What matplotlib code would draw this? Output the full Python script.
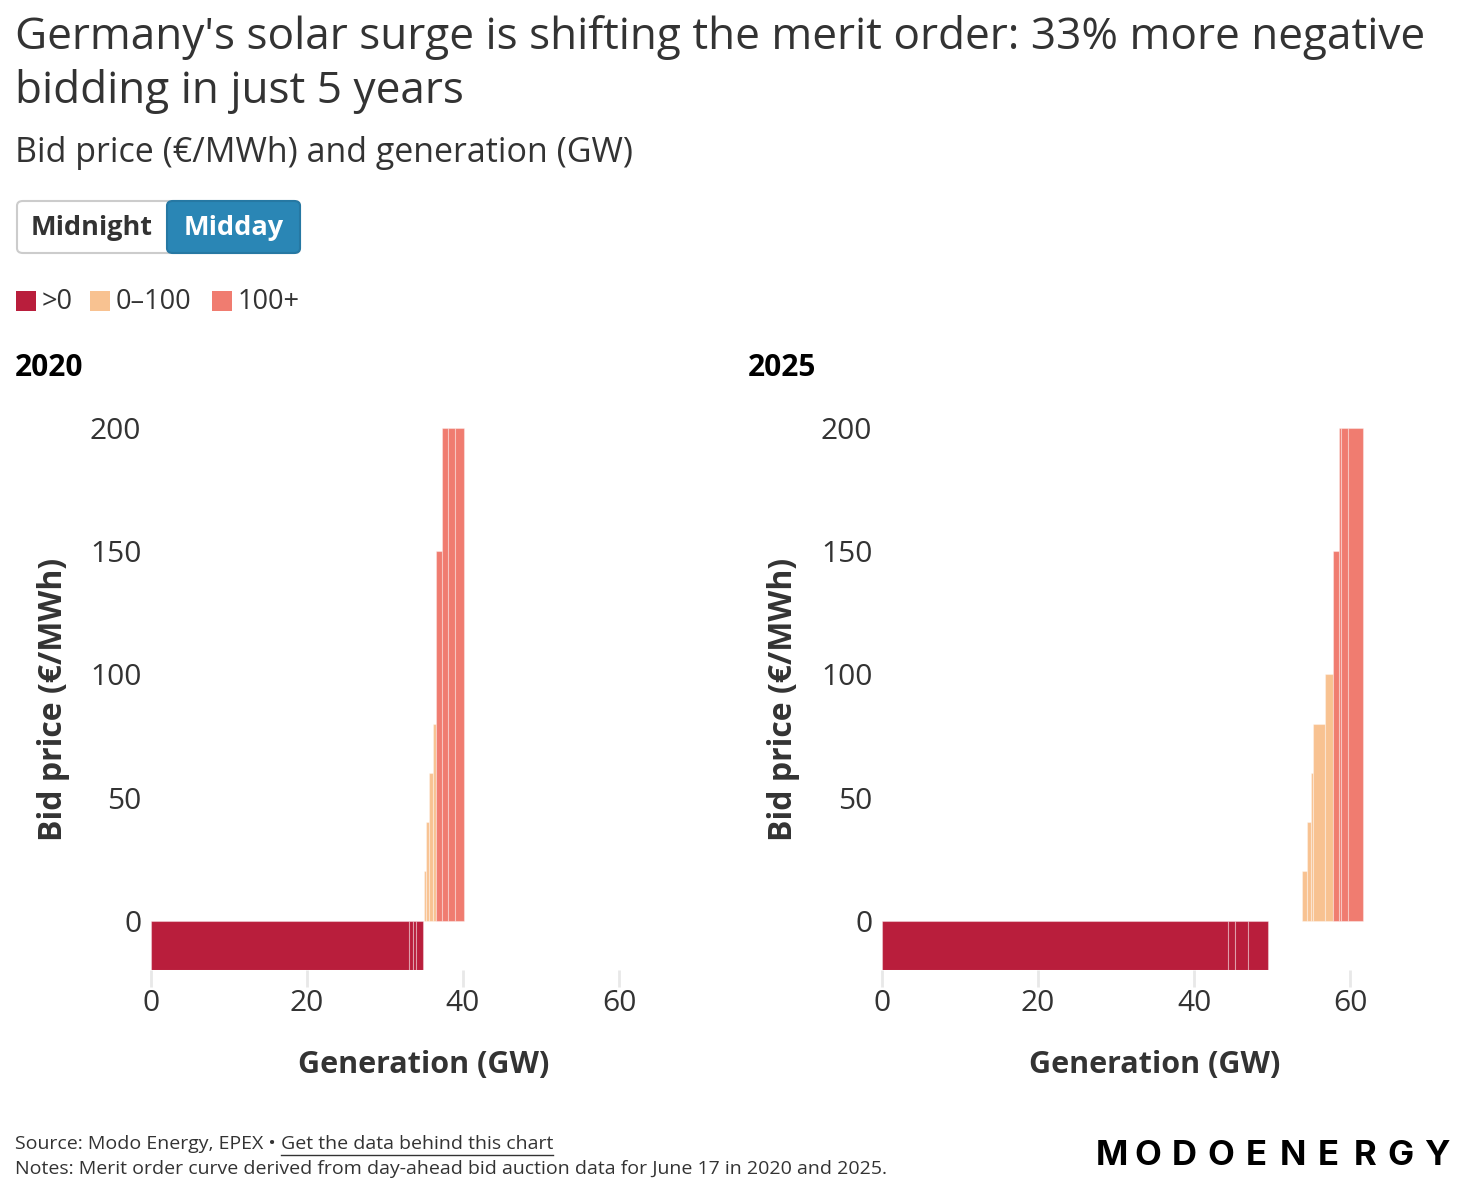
import matplotlib
matplotlib.use("Agg")
import matplotlib.pyplot as plt
from matplotlib.patches import FancyBboxPatch, Rectangle
from matplotlib.lines import Line2D

W, H = 1480, 1192

# merit order blocks (GW start, GW end, bid price)
start_2020 = [0, 33.1, 33.6, 34.0, 35.0, 35.3, 35.6, 36.2, 36.6, 37.3, 38.1, 39.0]
end_2020 = [33.1, 33.6, 34.0, 34.9, 35.3, 35.6, 36.2, 36.6, 37.3, 38.1, 39.0, 40.1]
price_2020 = [-20, -20, -20, -20, 20, 40, 60, 80, 150, 200, 200, 200]

start_2025 = [0, 44.3, 45.3, 46.9, 53.8, 54.5, 55.05, 55.3, 56.8, 57.8, 58.6, 58.8, 59.7]
end_2025 = [44.3, 45.3, 46.9, 49.5, 54.5, 55.05, 55.3, 56.8, 57.8, 58.6, 58.8, 59.7, 61.7]
price_2025 = [-20, -20, -20, -20, 20, 40, 60, 80, 100, 150, 200, 200, 200]

legend_labels = [">0", "0–100", "100+"]
legend_colors = ["#B91E3C", "#F8C291", "#F07C70"]
x_ticks = [0, 20, 40, 60]
y_ticks = [0, 50, 100, 150, 200]

FONT = "Open Sans"
plt.rcParams['font.family'] = [FONT, 'DejaVu Sans']
TXT = "#333333"


def fx(px):
    return px / W


def fy(py):
    return 1 - py / H


def colour_for(p):
    if p <= 0:
        return legend_colors[0]
    if p <= 100:
        return legend_colors[1]
    return legend_colors[2]


fig = plt.figure(figsize=(W / 100, H / 100), dpi=100)
fig.patch.set_facecolor("white")

# title block
fig.text(fx(15), fy(38), "Germany's solar surge is shifting the merit order: 33% more negative",
         fontsize=31.8, color=TXT, va="center", ha="left")
fig.text(fx(15), fy(92), "bidding in just 5 years", fontsize=31.8, color=TXT, va="center", ha="left")
fig.text(fx(15), fy(153), "Bid price (€/MWh) and generation (GW)", fontsize=24.5, color=TXT,
         va="center", ha="left")

# toggle buttons
fig.patches.append(FancyBboxPatch((fx(17), fy(253)), fx(283), 52 / H,
                                  boxstyle="round,pad=0,rounding_size=0.004",
                                  transform=fig.transFigure, facecolor="white",
                                  edgecolor="#cccccc", linewidth=1.5))
fig.patches.append(FancyBboxPatch((fx(167), fy(253)), fx(133), 52 / H,
                                  boxstyle="round,pad=0,rounding_size=0.004",
                                  transform=fig.transFigure, facecolor="#2A86B5",
                                  edgecolor="#2678a3", linewidth=1.5))
fig.text(fx(92), fy(228), "Midnight", fontsize=19.5, fontweight="bold", color=TXT,
         ha="center", va="center")
fig.text(fx(234), fy(228), "Midday", fontsize=19.5, fontweight="bold", color="white",
         ha="center", va="center")

# legend
leg_x = [16, 90, 212]
for lx, lab, col in zip(leg_x, legend_labels, legend_colors):
    fig.patches.append(Rectangle((fx(lx), fy(311)), fx(20), 20 / H,
                                 transform=fig.transFigure, facecolor=col, edgecolor="none"))
    fig.text(fx(lx + 26), fy(302), lab, fontsize=19.5, color=TXT, ha="left", va="center")

# panels
panels = [
    ("2020", 15, 151, start_2020, end_2020, price_2020),
    ("2025", 748, 882, start_2025, end_2025, price_2025),
]
ax_w = 70 * 7.8
for year, tx, left, starts, ends, prices in panels:
    fig.text(fx(tx), fy(368), year, fontsize=21.5, fontweight="bold", color="black",
             ha="left", va="center")
    ax = fig.add_axes([fx(left), fy(970), fx(ax_w), (970 - 428) / H])
    widths = [e - s for s, e in zip(starts, ends)]
    cols = [colour_for(p) for p in prices]
    ax.bar(starts, prices, width=widths, align="edge", color=cols,
           edgecolor=[(1, 1, 1, 0.35)] * len(cols), linewidth=0.8)
    ax.set_xlim(0, 70)
    ax.set_ylim(-20, 200)
    ax.set_xticks(x_ticks)
    ax.set_yticks(y_ticks)
    ax.tick_params(axis="x", length=12, width=2, color="#e8e8e8", pad=2,
                   labelsize=21.5, labelcolor=TXT)
    ax.tick_params(axis="y", length=0, pad=7, labelsize=21.5, labelcolor=TXT)
    for s in ax.spines.values():
        s.set_visible(False)
    ax.set_xlabel("Generation (GW)", fontsize=22, fontweight="bold", color=TXT)
    ax.set_ylabel("Bid price (€/MWh)", fontsize=23, fontweight="bold", color=TXT)
    ax.xaxis.set_label_coords(0.5, (970 - 1065) / 542)
    ax.xaxis.label.set_va("center")
    ax.yaxis.set_label_coords(-98 / ax_w, 0.5)
    ax.yaxis.label.set_va("center")

# footer
src = fig.text(fx(15), fy(1144), "Source: Modo Energy, EPEX • ", fontsize=14, color=TXT,
               ha="left", va="center")
fig.canvas.draw()
bb = src.get_window_extent()
link_x = bb.x1 / W
link = fig.text(link_x, fy(1144), "Get the data behind this chart", fontsize=14, color=TXT,
                ha="left", va="center")
fig.canvas.draw()
lb = link.get_window_extent()
fig.lines.append(Line2D([lb.x0 / W, lb.x1 / W], [fy(1155), fy(1155)],
                        transform=fig.transFigure, color=TXT, linewidth=1))
fig.text(fx(15), fy(1169), "Notes: Merit order curve derived from day-ahead bid auction data for June 17 in 2020 and 2025.",
         fontsize=14, color=TXT, ha="left", va="center")

# logo with wide letter spacing
logo = "MODOENERGY"
x0, x1 = 1112, 1437
for i, ch in enumerate(logo):
    xc = x0 + (x1 - x0) * i / (len(logo) - 1)
    fig.text(fx(xc), fy(1156), ch, fontsize=25, fontweight="bold", color="black",
             ha="center", va="center", family=["Inter", "DejaVu Sans"])

fig.savefig("out.png", dpi=100, facecolor="white")
